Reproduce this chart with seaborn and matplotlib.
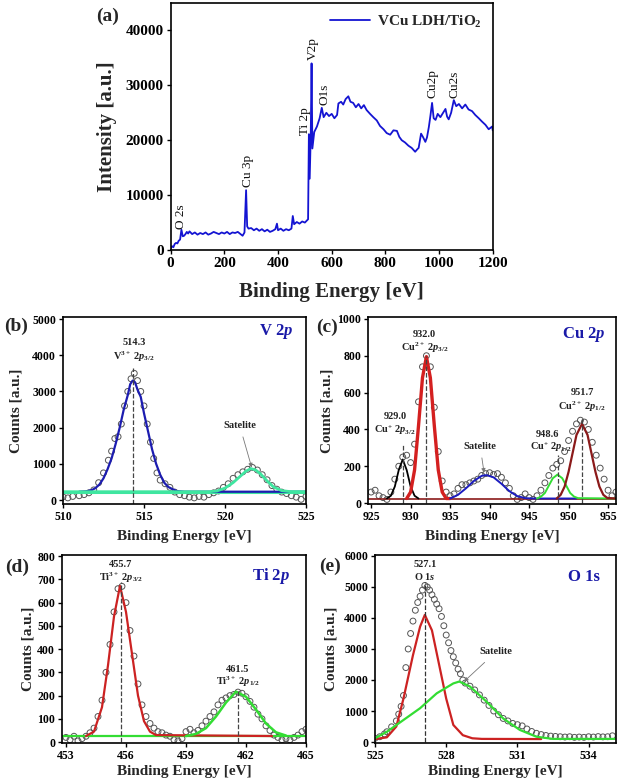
import numpy as np
import pandas as pd
import matplotlib
matplotlib.use("Agg")
import matplotlib.pyplot as plt
import seaborn as sns

# ── Data ─────────────────────────────────────────────────────────────────────
# (a) survey spectrum
SURVEY_E = [0, 5, 10, 15, 20, 25, 30, 35, 40, 45, 50, 55, 60, 65, 70, 80, 90, 100,
            110, 120, 130, 140, 150, 160, 170, 180, 190, 200, 210, 220, 230, 240,
            250, 260, 268, 275, 281, 285, 290, 300, 310, 320, 330, 340, 350, 360,
            370, 380, 390, 396, 400, 410, 420, 430, 440, 450, 455, 460, 470, 480,
            490, 500, 508, 512, 515, 518, 522, 525, 528, 535, 545, 555, 563, 570,
            580, 590, 600, 610, 620, 625, 635, 643, 652, 662, 670, 680, 690, 700,
            710, 720, 730, 743, 755, 768, 780, 793, 805, 818, 830, 843, 852, 861,
            873, 886, 898, 911, 918, 924, 933, 940, 949, 955, 962, 968, 974, 980,
            987, 995, 1005, 1015, 1024, 1030, 1036, 1045, 1055, 1064, 1074, 1086,
            1098, 1110, 1123, 1135, 1148, 1160, 1173, 1185, 1198, 1200]
SURVEY_I = [300, 700, 500, 1100, 1300, 1200, 1700, 1900, 3700, 2500, 2600, 2900,
            3300, 3000, 3400, 2900, 3200, 2800, 3100, 2900, 3200, 2800, 3000, 3300,
            3100, 2900, 3200, 3000, 3300, 2900, 3200, 3100, 3300, 2900, 2600, 3200,
            10900, 4300, 3900, 4000, 3600, 3900, 3500, 3800, 3400, 3700, 3300, 3500,
            3800, 4800, 3600, 3900, 3500, 3800, 3600, 3900, 6200, 4700, 5100, 4800,
            5200, 5000, 5400, 5600, 21100, 13000, 21000, 34000, 18500, 21500, 22500,
            24000, 25900, 24200, 25000, 24400, 24800, 24000, 24600, 26700, 27000,
            26500, 27500, 28000, 27000, 26800, 26000, 26600, 25800, 26400, 25500,
            24800, 24200, 23600, 22600, 22000, 21300, 21000, 21800, 21700, 20600,
            20000, 19600, 19000, 18600, 17900, 18300, 18600, 21200, 20600, 19700,
            20500, 22400, 24500, 26800, 24000, 23700, 24800, 24200, 25000, 25700,
            24300, 23800, 25000, 27300, 26200, 26600, 25800, 26500, 25600, 25300,
            24600, 24000, 23400, 22800, 22000, 22500, 21800]
SURVEY_TAGS = ["O 2s", "Cu 3p", "Ti 2p", "V2p", "O1s", "Cu2p", "Cu2s"]
SURVEY_TAG_E = [40, 288, 499, 530, 572, 975, 1057]
SURVEY_TAG_I = [3900, 11400, 21000, 34600, 26400, 27700, 27700]

# (b) V 2p
V_E = [510.0, 510.3, 510.6, 511.0, 511.3, 511.6, 511.9, 512.2, 512.5, 512.8, 513.0,
       513.2, 513.4, 513.6, 513.8, 514.0, 514.2, 514.4, 514.6, 514.8, 515.0, 515.2,
       515.4, 515.6, 515.8, 516.0, 516.3, 516.6, 516.9, 517.2, 517.5, 517.8, 518.1,
       518.4, 518.7, 519.0, 519.3, 519.6, 519.9, 520.2, 520.5, 520.8, 521.1, 521.4,
       521.7, 522.0, 522.3, 522.6, 522.9, 523.2, 523.5, 523.8, 524.1, 524.4, 524.7,
       525.0]
V_CNT = [90, 60, 100, 120, 150, 200, 280, 480, 750, 1100, 1350, 1700, 1750, 2100,
         2600, 3000, 3350, 3500, 3300, 3000, 2600, 2100, 1600, 1150, 750, 550, 450,
         350, 220, 150, 120, 80, 60, 100, 80, 150, 200, 250, 350, 450, 600, 700, 780,
         850, 900, 830, 700, 560, 400, 300, 220, 180, 120, 80, 20, 100]
V_FIT_E = [511.0, 511.5, 511.8, 512.0, 512.25, 512.5, 512.75, 513.0, 513.25, 513.5,
           513.75, 514.0, 514.15, 514.3, 514.45, 514.6, 514.8, 515.0, 515.25, 515.5,
           515.75, 516.0, 516.25, 516.5, 517.0, 517.5, 525.0]
V_FIT_C = [230, 245, 280, 330, 430, 600, 850, 1150, 1550, 2000, 2500, 2900, 3200,
           3300, 3250, 3050, 2850, 2400, 1900, 1400, 1000, 700, 480, 360, 250, 230, 230]
V_SAT_E = [510.0, 519.0, 519.5, 520.0, 520.5, 521.0, 521.3, 521.6, 521.9, 522.2,
           522.6, 523.0, 523.5, 524.0, 525.0]
V_SAT_C = [230, 230, 250, 330, 480, 680, 800, 870, 830, 720, 530, 360, 260, 235, 230]

# (c) Cu 2p
CU_E = [925.0, 925.5, 926.0, 926.5, 927.0, 927.5, 928.0, 928.5, 929.0, 929.5, 930.0,
        930.5, 931.0, 931.5, 932.0, 932.5, 933.0, 933.5, 934.0, 934.5, 935.0, 935.5,
        936.0, 936.5, 937.0, 937.5, 938.0, 938.5, 939.0, 939.5, 940.0, 940.5, 941.0,
        941.5, 942.0, 942.5, 943.0, 943.5, 944.0, 944.5, 945.0, 945.5, 946.0, 946.5,
        947.0, 947.5, 948.0, 948.5, 949.0, 949.5, 950.0, 950.5, 951.0, 951.5, 952.0,
        952.5, 953.0, 953.5, 954.0, 954.5, 955.0, 955.5, 956.0]
CU_CNT = [60, 70, 40, 30, 20, 60, 130, 200, 250, 260, 220, 320, 550, 740, 800, 740,
          520, 280, 120, 60, 40, 50, 80, 100, 100, 110, 120, 130, 150, 160, 165, 155,
          160, 140, 110, 80, 40, 20, 30, 50, 30, 20, 40, 70, 110, 150, 190, 210, 230,
          280, 340, 390, 430, 450, 440, 400, 330, 260, 190, 130, 70, 40, 60]
CU_BASE = 25
CU1_E = [927.0, 927.5, 928.0, 928.5, 929.0, 929.5, 930.0, 930.5, 931.0]
CU1_C = [25, 40, 90, 180, 237, 180, 90, 40, 25]
CU2_E = [929.5, 930.0, 930.5, 931.0, 931.5, 932.0, 932.5, 933.0, 933.5, 934.0, 934.5,
         935.0]
CU2_C = [25, 60, 180, 420, 680, 795, 680, 420, 180, 60, 25, 25]
CU_SAT_E = [935.0, 936.0, 937.0, 938.0, 939.0, 939.6, 940.5, 941.5, 942.5, 943.5,
            944.5, 945.5, 951.0]
CU_SAT_C = [25, 45, 80, 120, 148, 152, 140, 105, 65, 38, 27, 25, 25]
CU3_E = [946.0, 946.5, 947.0, 947.5, 948.0, 948.6, 949.2, 949.7, 950.2, 950.7, 951.2,
         956.0]
CU3_C = [25, 35, 55, 95, 135, 155, 135, 95, 55, 35, 27, 25]
CU4_E = [948.5, 949.0, 949.5, 950.0, 950.5, 951.0, 951.7, 952.4, 952.9, 953.4, 953.9,
         954.4, 954.9, 956.0]
CU4_C = [25, 45, 90, 170, 270, 370, 430, 370, 270, 170, 90, 45, 28, 25]

# (d) Ti 2p
TI_E = [453.0, 453.2, 453.4, 453.6, 453.8, 454.0, 454.2, 454.4, 454.6, 454.8, 455.0,
        455.2, 455.4, 455.6, 455.8, 456.0, 456.2, 456.4, 456.6, 456.8, 457.0, 457.2,
        457.4, 457.6, 457.8, 458.0, 458.2, 458.4, 458.6, 458.8, 459.0, 459.2, 459.4,
        459.6, 459.8, 460.0, 460.2, 460.4, 460.6, 460.8, 461.0, 461.2, 461.4, 461.6,
        461.8, 462.0, 462.2, 462.4, 462.6, 462.8, 463.0, 463.2, 463.4, 463.6, 463.8,
        464.0, 464.2, 464.4, 464.6, 464.8, 465.0]
TI_CNT = [20, 10, 25, 5, 15, 25, 40, 60, 110, 180, 300, 420, 560, 660, 670, 600, 480,
          370, 250, 160, 110, 80, 60, 45, 40, 30, 25, 10, 5, 15, 45, 55, 40, 50, 70,
          90, 110, 130, 160, 180, 190, 200, 205, 215, 210, 195, 175, 150, 120, 100, 70,
          50, 30, 20, 10, 15, 10, 20, 30, 45, 55]
TI_BASE = 26
TI1_E = [454.0, 454.4, 454.8, 455.1, 455.4, 455.7, 456.0, 456.3, 456.6, 456.9, 457.2,
         457.5, 463.3]
TI1_C = [26, 45, 150, 330, 540, 672, 560, 380, 200, 90, 45, 30, 26]
TI2_E = [459.0, 459.5, 460.0, 460.5, 461.0, 461.5, 462.0, 462.5, 463.0, 463.5, 464.0]
TI2_C = [26, 35, 60, 110, 170, 217, 195, 140, 80, 42, 28]

# (e) O 1s
O_E = [525.0, 525.2, 525.4, 525.5, 525.7, 525.9, 526.0, 526.1, 526.2, 526.3, 526.4,
       526.5, 526.6, 526.7, 526.8, 526.9, 527.0, 527.1, 527.2, 527.3, 527.4, 527.5,
       527.6, 527.7, 527.8, 527.9, 528.0, 528.1, 528.2, 528.3, 528.4, 528.5, 528.6,
       528.7, 528.8, 529.0, 529.2, 529.4, 529.6, 529.8, 530.0, 530.2, 530.4, 530.6,
       530.8, 531.0, 531.2, 531.4, 531.6, 531.8, 532.0, 532.2, 532.4, 532.6, 532.8,
       533.0, 533.2, 533.4, 533.6, 533.8, 534.0, 534.2, 534.4, 534.6, 534.8, 535.0]
O_CNT = [120, 170, 260, 330, 490, 680, 900, 1150, 1500, 2400, 3000, 3500, 3900, 4250,
         4500, 4700, 4900, 5050, 5000, 4900, 4750, 4600, 4450, 4300, 4050, 3750, 3450,
         3200, 2950, 2750, 2550, 2350, 2200, 2000, 1900, 1800, 1680, 1520, 1350, 1180,
         1000, 880, 760, 680, 600, 560, 520, 420, 340, 280, 240, 210, 190, 180, 170,
         160, 170, 150, 160, 150, 170, 160, 175, 165, 170, 200]
O1_E = [525.0, 525.5, 525.9, 526.2, 526.6, 526.9, 527.1, 527.4, 527.7, 528.0, 528.3,
        528.7, 529.1, 529.5, 532.0]
O1_C = [95, 150, 500, 1400, 2800, 3720, 4100, 3600, 2500, 1400, 550, 220, 120, 100, 95]
O2_E = [525.0, 525.5, 526.2, 526.9, 527.6, 528.3, 528.55, 529.0, 529.7, 530.4, 531.1,
        531.8, 532.5, 535.1]
O2_C = [120, 330, 710, 1090, 1570, 1890, 1950, 1790, 1300, 760, 390, 170, 100, 100]

# ── Style ────────────────────────────────────────────────────────────────────
sns.set_theme(style="ticks")
plt.rcParams.update({
    "font.family": ["Liberation Serif", "DejaVu Serif"],
    "font.weight": "bold",
    "axes.labelweight": "bold",
    "mathtext.fontset": "custom",
    "mathtext.rm": "Liberation Serif:bold",
    "mathtext.it": "Liberation Serif:italic:bold",
    "mathtext.bf": "Liberation Serif:bold",
    "axes.linewidth": 1.2,
    "axes.edgecolor": "black",
    "xtick.color": "black",
    "ytick.color": "black",
    "xtick.major.size": 3,
    "ytick.major.size": 3,
    "xtick.major.width": 1.0,
    "ytick.major.width": 1.0,
})

BLUE_T = "#1a1aa8"
DOT_EC = "#555555"


def line(ax, xs, ys, color, lw=1.4, **kw):
    sns.lineplot(x=xs, y=ys, ax=ax, color=color, lw=lw, estimator=None,
                 sort=False, **kw)


def dots(ax, xs, ys, s=18):
    sns.scatterplot(x=xs, y=ys, ax=ax, s=s, edgecolor=DOT_EC, linewidth=0.7)
    ax.collections[-1].set_facecolor("none")


def style_panel(ax, letter, title, tick_fs, lab_fs, ylab, xlab_y, ylab_x,
                letter_xy, title_xy):
    ax.set_xlabel("Binding Energy [eV]", fontsize=lab_fs, fontweight="bold")
    ax.set_ylabel(ylab, fontsize=lab_fs, fontweight="bold")
    ax.xaxis.set_label_coords(0.5, xlab_y)
    ax.yaxis.set_label_coords(ylab_x, 0.5)
    ax.tick_params(labelsize=tick_fs, pad=2)
    for lb in ax.get_xticklabels() + ax.get_yticklabels():
        lb.set_fontweight("bold")
    ax.text(letter_xy[0], letter_xy[1], letter, transform=ax.transAxes,
            fontsize=14, fontweight="bold", ha="center", va="center")
    if title:
        ax.text(title_xy[0], title_xy[1], title, transform=ax.transAxes,
                fontsize=12, color=BLUE_T, ha="center", va="center")


def note(ax, x, y, s, fs=7.5):
    ax.text(x, y, s, ha="center", va="center", fontsize=fs, color="#222222")


def sat(ax, xy, xytext):
    ax.annotate("Satelite", xy=xy, xytext=xytext, ha="center", va="center",
                fontsize=7.5, color="#222222",
                arrowprops=dict(arrowstyle="-|>", color="#777777", lw=0.6,
                                mutation_scale=6, shrinkA=3, shrinkB=0))


fig = plt.figure(figsize=(6.2, 7.84), dpi=100)

# ── (a) survey ───────────────────────────────────────────────────────────────
ax = fig.add_axes([0.2753, 0.6811, 0.5194, 0.3151])
line(ax, SURVEY_E, SURVEY_I, "#1414d2", lw=1.3, label="VCu LDH/TiO$_2$")
for tag, e, i in zip(SURVEY_TAGS, SURVEY_TAG_E, SURVEY_TAG_I):
    ax.text(e, i, tag, rotation=90, ha="center", va="bottom", fontsize=9.5,
            fontweight="normal", color="#111111")
ax.set_xlim(0, 1200)
ax.set_ylim(0, 45000)
ax.set_xticks(range(0, 1201, 200))
ax.set_yticks(range(0, 40001, 10000))
leg = ax.legend(loc="upper right", frameon=False, fontsize=11, handlelength=2.6,
                borderaxespad=0.3, handletextpad=0.5)
style_panel(ax, "(a)", None, 11, 15, "Intensity [a.u.]", -0.13, -0.166,
            (-0.195, 0.947), None)

# ── (b) V 2p ─────────────────────────────────────────────────────────────────
ax = fig.add_axes([0.1016, 0.3571, 0.3919, 0.2385])
line(ax, [510.0, 525.0], [230, 230], "#3fe6a0", lw=2.2)
dots(ax, V_E, V_CNT)
line(ax, V_FIT_E, V_FIT_C, "#1c1cb0", lw=1.6)
line(ax, V_SAT_E, V_SAT_C, "#3fe6a0", lw=2.0)
ax.vlines(V_FIT_E[13], -100, 3650, colors="#444444", linestyles="--", lw=0.9)
note(ax, 514.4, 4340, "514.3")
note(ax, 514.4, 3950, "V$^{3+}$ 2$p_{3/2}$")
sat(ax, (521.65, 900), (520.9, 2070))
ax.set_xlim(510, 525)
ax.set_ylim(-110, 5055)
ax.set_xticks([510, 515, 520, 525])
ax.set_yticks(range(0, 5001, 1000))
style_panel(ax, "(b)", "V 2$p$", 8.5, 11, "Counts [a.u.]", -0.14, -0.165,
            (-0.193, 0.952), (0.877, 0.925))

# ── (c) Cu 2p ────────────────────────────────────────────────────────────────
ax = fig.add_axes([0.5935, 0.3571, 0.4, 0.2385])
line(ax, [924.6, 956.0], [CU_BASE, CU_BASE], "#8b1a1a", lw=1.2)
dots(ax, CU_E, CU_CNT)
line(ax, CU1_E, CU1_C, "black", lw=1.3)
line(ax, CU2_E, CU2_C, "#d42020", lw=2.4)
line(ax, CU_SAT_E, CU_SAT_C, "#1c1cc0", lw=1.4)
line(ax, CU3_E, CU3_C, "#33dd33", lw=1.4)
line(ax, CU4_E, CU4_C, "#8b1a1a", lw=1.6)
ax.vlines([929.0, 932.0, 948.6, 951.7], 0, [320, 800, 261, 469],
          colors="#444444", linestyles="--", lw=0.9)
note(ax, 931.75, 913, "932.0")
note(ax, 931.75, 842, "Cu$^{2+}$ 2$p_{3/2}$")
note(ax, 928.0, 469, "929.0")
note(ax, 928.0, 397, "Cu$^{+}$ 2$p_{3/2}$")
note(ax, 947.3, 370, "948.6")
note(ax, 947.7, 304, "Cu$^{+}$ 2$p_{1/2}$")
note(ax, 951.7, 600, "951.7")
note(ax, 951.7, 523, "Cu$^{2+}$ 2$p_{1/2}$")
sat(ax, (939.3, 165), (938.8, 310))
ax.set_xlim(924.6, 956)
ax.set_ylim(-5, 1010)
ax.set_xticks(range(925, 956, 5))
ax.set_yticks(range(0, 1001, 200))
style_panel(ax, "(c)", "Cu 2$p$", 8.5, 11, "Counts [a.u.]", -0.14, -0.137,
            (-0.165, 0.947), (0.871, 0.909))

# ── (d) Ti 2p ────────────────────────────────────────────────────────────────
ax = fig.add_axes([0.1, 0.0523, 0.3935, 0.2398])
line(ax, [452.8, 465.0], [TI_BASE, TI_BASE], "#33dd33", lw=1.6)
dots(ax, TI_E, TI_CNT)
line(ax, TI1_E, TI1_C, "#cc2222", lw=1.6)
line(ax, TI2_E, TI2_C, "#33dd33", lw=1.8)
ax.vlines([455.75, 461.6], 0, [690, 220], colors="#444444", linestyles="--",
          lw=0.9)
note(ax, 455.75, 766, "455.7")
note(ax, 455.75, 705, "Ti$^{3+}$ 2$p_{3/2}$")
note(ax, 461.6, 314, "461.5")
note(ax, 461.6, 260, "Ti$^{3+}$ 2$p_{1/2}$")
ax.set_xlim(452.8, 465)
ax.set_ylim(-4, 805)
ax.set_xticks([453, 456, 459, 462, 465])
ax.set_yticks(range(0, 801, 100))
style_panel(ax, "(d)", "Ti 2$p$", 8.5, 11, "Counts [a.u.]", -0.117, -0.111,
            (-0.184, 0.936), (0.857, 0.888))

# ── (e) O 1s ─────────────────────────────────────────────────────────────────
ax = fig.add_axes([0.6048, 0.0523, 0.3887, 0.2398])
dots(ax, O_E, O_CNT)
line(ax, O1_E, O1_C, "#cc2222", lw=1.6)
line(ax, O2_E, O2_C, "#33dd33", lw=1.6)
ax.vlines(527.1, 0, 5150, colors="#333333", linestyles="--", lw=0.9)
note(ax, 527.1, 5740, "527.1")
note(ax, 527.1, 5330, "O 1$s$")
sat(ax, (528.75, 1950), (530.1, 2910))
ax.set_xlim(525, 535.15)
ax.set_ylim(-32, 6032)
ax.set_xticks([525, 528, 531, 534])
ax.set_yticks(range(0, 6001, 1000))
style_panel(ax, "(e)", "O 1s", 8.5, 11, "Counts [a.u.]", -0.117, -0.154,
            (-0.187, 0.941), (0.867, 0.883))

fig.savefig("out.png", dpi=100)
